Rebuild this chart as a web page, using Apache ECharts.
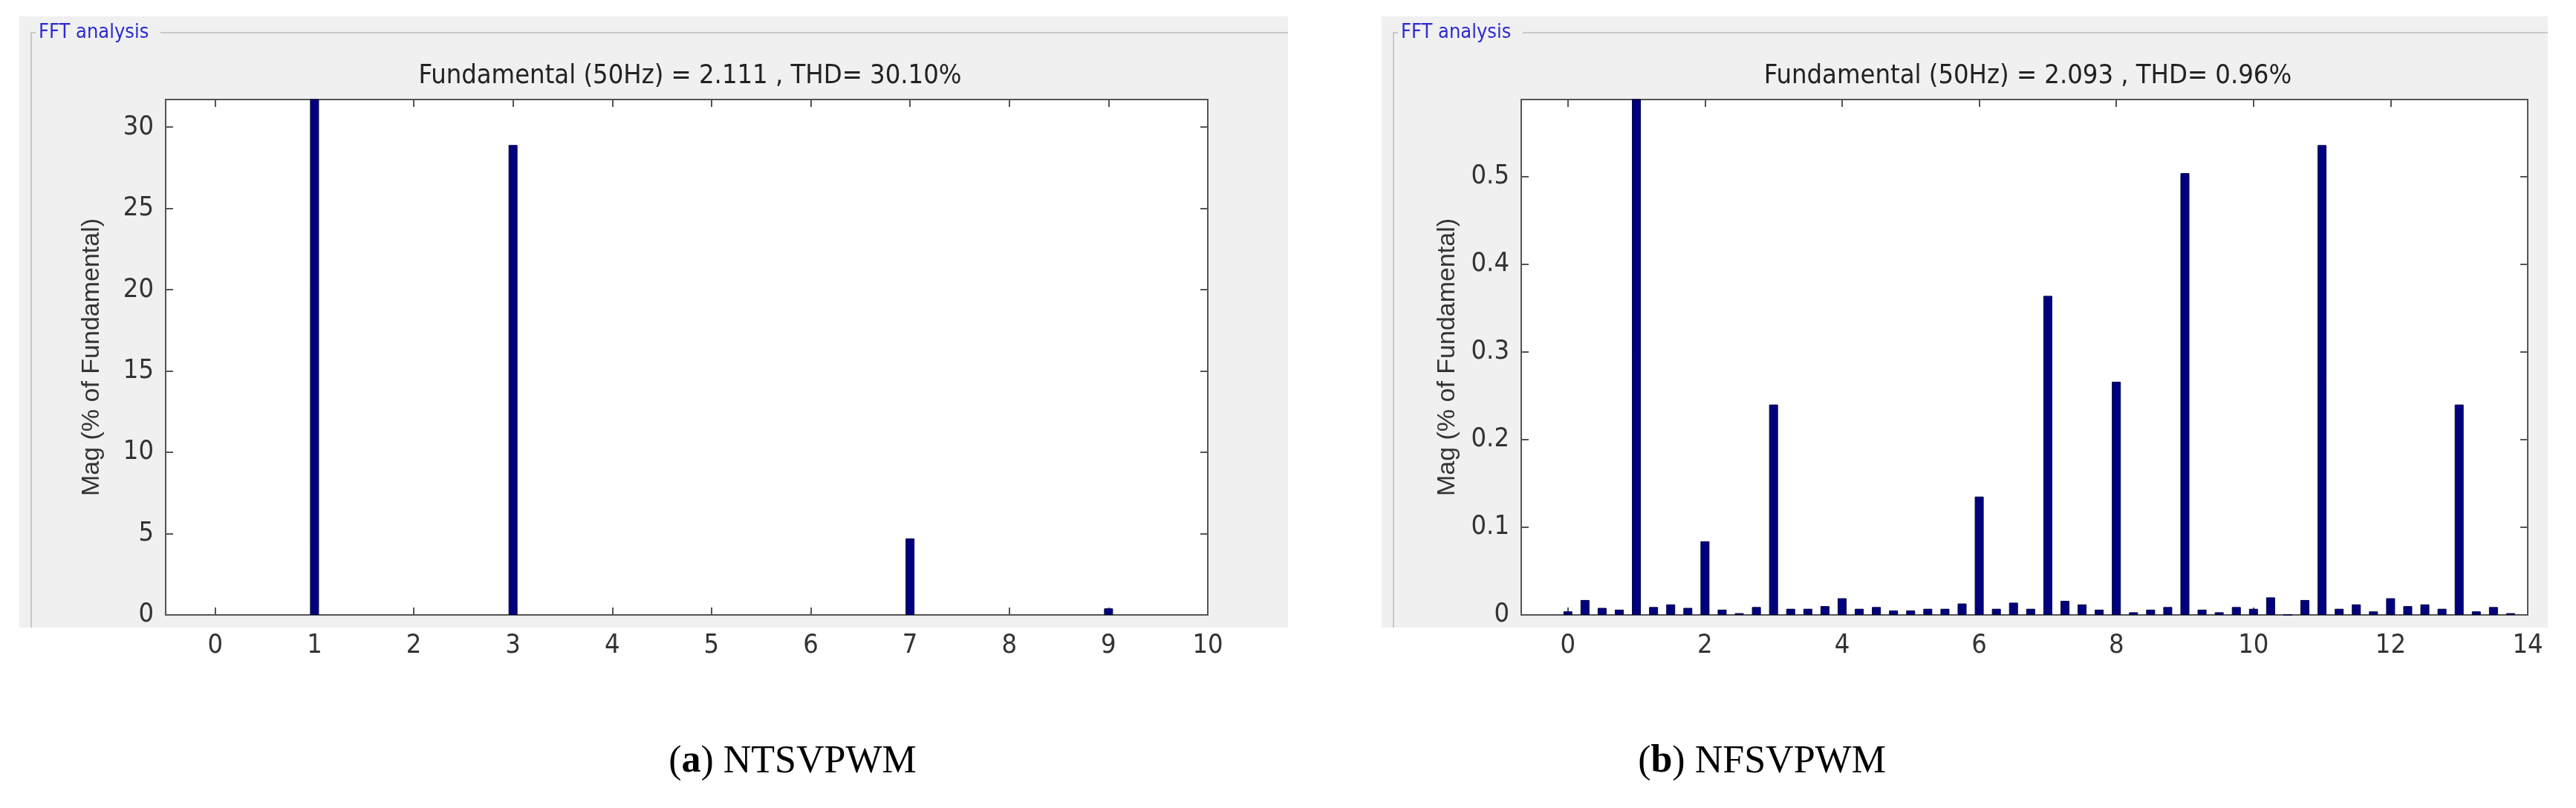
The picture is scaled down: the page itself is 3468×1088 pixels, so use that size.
<!DOCTYPE html>
<html>
<head>
<meta charset="utf-8">
<script src="https://cdn.jsdelivr.net/npm/echarts@6/dist/echarts.min.js"></script>
<style>html,body{margin:0;background:#fff}#main{width:3468px;height:1088px}</style>
</head>
<body>
<div id="main"></div>
<script>
// panel (a) NTSVPWM: harmonic order vs magnitude
var harmA = [1, 3, 7, 9];
var magA = [100, 28.9, 4.7, 0.4];
var ticksA = [0, 1, 2, 3, 4, 5, 6, 7, 8, 9, 10];

// panel (b) NFSVPWM: harmonics every 0.25
var harmB = [0, 0.25, 0.5, 0.75, 1, 1.25, 1.5, 1.75, 2, 2.25, 2.5, 2.75, 3, 3.25, 3.5, 3.75,
  4, 4.25, 4.5, 4.75, 5, 5.25, 5.5, 5.75, 6, 6.25, 6.5, 6.75, 7, 7.25, 7.5, 7.75,
  8, 8.25, 8.5, 8.75, 9, 9.25, 9.5, 9.75, 10, 10.25, 10.5, 10.75, 11, 11.25, 11.5, 11.75,
  12, 12.25, 12.5, 12.75, 13, 13.25, 13.5, 13.75];
var magB = [0.004, 0.017, 0.008, 0.006, 100, 0.009, 0.012, 0.008, 0.084, 0.006, 0.002, 0.009,
  0.240, 0.007, 0.007, 0.010, 0.019, 0.007, 0.009, 0.005, 0.005, 0.007, 0.007, 0.013,
  0.135, 0.007, 0.014, 0.007, 0.364, 0.016, 0.012, 0.006, 0.266, 0.003, 0.006, 0.009,
  0.504, 0.006, 0.003, 0.009, 0.007, 0.020, 0, 0.017, 0.536, 0.007, 0.012, 0.004,
  0.019, 0.010, 0.012, 0.007, 0.240, 0.004, 0.009, 0.002];
var ticksB = [0, 2, 4, 6, 8, 10, 12, 14];

var titleA = 'Fundamental (50Hz) = 2.111 , THD= 30.10%';
var titleB = 'Fundamental (50Hz) = 2.093 , THD= 0.96%';

var narrow = '"Liberation Sans Narrow", "DejaVu Sans Condensed", sans-serif';
var axisCol = '#555';

function pairs(xs, ys) {
  return xs.map(function (x, i) { return [x, ys[i]]; });
}

function xAxes(g, min, max, ticks) {
  var base = {
    type: 'value', gridIndex: g, min: min, max: max,
    axisLine: { show: true, onZero: false, lineStyle: { color: axisCol, width: 2 } },
    axisTick: { show: true, inside: true, length: 10, customValues: ticks, lineStyle: { color: axisCol, width: 2 } },
    splitLine: { show: false }
  };
  var bottom = Object.assign({}, base, {
    position: 'bottom',
    axisLabel: { customValues: ticks, color: '#333', fontSize: 36, fontFamily: narrow, margin: 24 }
  });
  var top = Object.assign({}, base, { position: 'top', axisLabel: { show: false } });
  return [bottom, top];
}

function yAxes(g, max, interval) {
  var base = {
    type: 'value', gridIndex: g, min: 0, max: max, interval: interval,
    axisLine: { show: true, onZero: false, lineStyle: { color: axisCol, width: 2 } },
    axisTick: { show: true, inside: true, length: 10, lineStyle: { color: axisCol, width: 2 } },
    splitLine: { show: false }
  };
  var left = Object.assign({}, base, {
    position: 'left',
    name: 'Mag (% of Fundamental)', nameLocation: 'middle', nameGap: 82,
    nameTextStyle: { color: '#333', fontSize: 34, fontFamily: 'Liberation Sans' },
    axisLabel: { color: '#333', fontSize: 36, fontFamily: narrow, margin: 16, showMaxLabel: false }
  });
  var right = Object.assign({}, base, { position: 'right', axisLabel: { show: false } });
  return [left, right];
}

function panelGraphic(x0, x1) {
  return [
    { type: 'rect', z: -10, shape: { x: x0, y: 22, width: x1 - x0, height: 823 }, style: { fill: '#f0f0f0' } },
    { type: 'polyline', z: -5, shape: { points: [[x0 + 16, 845], [x0 + 16, 44], [x0 + 22, 44]] }, style: { stroke: '#c8c8c8', lineWidth: 2, fill: null } },
    { type: 'line', z: -5, shape: { x1: x0 + 190, y1: 44, x2: x1, y2: 44 }, style: { stroke: '#c8c8c8', lineWidth: 2 } },
    { type: 'text', left: x0 + 26, top: 30, style: { text: 'FFT analysis', fill: '#2b2bd0', fontSize: 27, fontFamily: narrow } }
  ];
}

function caption(letter, name, x) {
  return { text: '({b|' + letter + '}) ' + name, left: x, top: 995, textAlign: 'center',
    textStyle: { fontSize: 52, fontWeight: 'normal', color: '#000', fontFamily: '"Liberation Serif", serif',
      rich: { b: { fontSize: 52, fontWeight: 'bold', fontFamily: '"Liberation Serif", serif' } } } };
}

var chart = echarts.init(document.getElementById('main'));
var xa = xAxes(0, -0.5, 10, ticksA), xb = xAxes(1, -0.68, 14, ticksB);
var ya = yAxes(0, 31.7, 5), yb = yAxes(1, 0.588, 0.1);

chart.setOption({
  backgroundColor: '#fff',
  animation: false,
  title: [
    { text: titleA, left: 924, top: 80, textAlign: 'center', textStyle: { fontSize: 36, fontWeight: 'normal', color: '#222', fontFamily: narrow } },
    { text: titleB, left: 2725, top: 80, textAlign: 'center', textStyle: { fontSize: 36, fontWeight: 'normal', color: '#222', fontFamily: narrow } },
    caption('a', 'NTSVPWM', 1062),
    caption('b', 'NFSVPWM', 2367)
  ],
  graphic: panelGraphic(26, 1734).concat(panelGraphic(1860, 3430)).concat([
    { type: 'rect', z: -8, shape: { x: 223, y: 134, width: 1403, height: 694 }, style: { fill: '#fff' } },
    { type: 'rect', z: -8, shape: { x: 2048, y: 134, width: 1355, height: 694 }, style: { fill: '#fff' } }
  ]),
  grid: [
    { left: 223, width: 1403, top: 134, height: 694 },
    { left: 2048, width: 1355, top: 134, height: 694 }
  ],
  xAxis: [xa[0], xa[1], xb[0], xb[1]],
  yAxis: [ya[0], ya[1], yb[0], yb[1]],
  series: [
    { type: 'bar', xAxisIndex: 0, yAxisIndex: 0, data: pairs(harmA, magA), barWidth: 12,
      itemStyle: { color: '#00007f', borderColor: '#000040', borderWidth: 1 } },
    { type: 'bar', xAxisIndex: 2, yAxisIndex: 2, data: pairs(harmB, magB), barWidth: 12,
      itemStyle: { color: '#00007f', borderColor: '#000040', borderWidth: 1 } }
  ]
});
</script>
</body>
</html>
